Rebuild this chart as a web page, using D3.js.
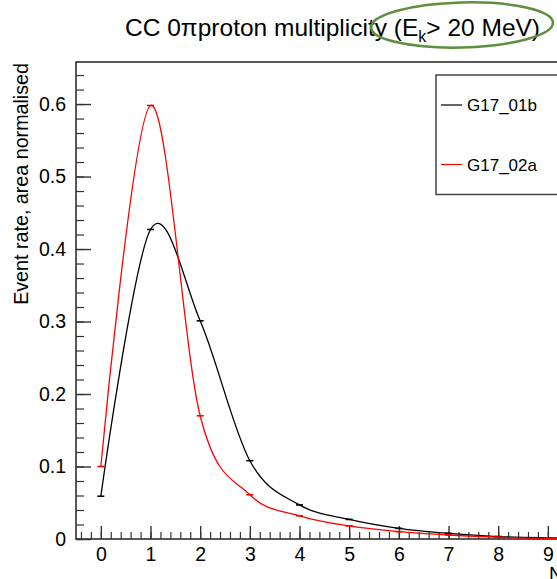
<!DOCTYPE html>
<html>
<head>
<meta charset="utf-8">
<script src="https://cdn.jsdelivr.net/npm/d3@7"></script>
<style>
body { margin: 0; background: #fff; }
text { font-family: "Liberation Sans", Arial, Helvetica, sans-serif; fill: #000; }
</style>
</head>
<body>
<div id="chart"></div>
<script>
// proton multiplicity bins and the two tunes
var nProtons = [0, 1, 2, 3, 4, 5, 6, 7, 8, 9, 10];
var g17_01b = [0.059, 0.427, 0.301, 0.108, 0.047, 0.027, 0.0147, 0.0078, 0.0034, 0.0016, 0.0008];
var g17_02a = [0.100, 0.598, 0.170, 0.061, 0.032, 0.018, 0.0101, 0.0055, 0.0024, 0.0011, 0.0005];
var seriesNames = ["G17_01b", "G17_02a"];
var seriesColors = ["#000000", "#ff0000"];
var yTicks = [0, 0.1, 0.2, 0.3, 0.4, 0.5, 0.6];
var xTicks = [0, 1, 2, 3, 4, 5, 6, 7, 8, 9, 10];

var W = 557, H = 579;
var plotLeft = 76, plotTop = 62, plotBottom = 539;

var x = d3.scaleLinear().domain([-0.5, 10.5]).range([plotLeft, plotLeft + 11 * 49.67]);
var y = d3.scaleLinear().domain([0, 0.658]).range([plotBottom, plotTop]);

var svg = d3.select("#chart").append("svg")
    .attr("width", W)
    .attr("height", H);

// title
var title = svg.append("text")
    .attr("x", 125)
    .attr("y", 36)
    .style("font-size", "24.5px");
title.append("tspan").text("CC 0\u03c0proton multiplicity (E");
title.append("tspan").attr("dy", 6).style("font-size", "16px").text("k");
title.append("tspan").attr("dy", -6).text("> 20 MeV)");

// hand drawn green ring around the cut
svg.append("ellipse")
    .attr("cx", 462).attr("cy", 25)
    .attr("rx", 91).attr("ry", 22.5)
    .attr("transform", "rotate(-1.5,462,25)")
    .attr("fill", "none")
    .attr("stroke", "#5e8e3e")
    .attr("stroke-width", 2.5);

// frame
svg.append("rect")
    .attr("x", plotLeft).attr("y", plotTop)
    .attr("width", x.range()[1] - plotLeft).attr("height", plotBottom - plotTop)
    .attr("fill", "none")
    .attr("stroke", "#222")
    .attr("stroke-width", 1.5);

// y axis minor ticks
svg.append("g")
    .attr("transform", "translate(" + plotLeft + ",0)")
    .call(d3.axisLeft(y).tickValues(d3.range(0, 0.65, 0.02)).tickSize(-8).tickFormat(""))
    .call(function(g) { g.select(".domain").remove(); g.selectAll("line").attr("stroke", "#333").attr("stroke-width", 1.2); });

// y axis major
svg.append("g")
    .attr("transform", "translate(" + plotLeft + ",0)")
    .call(d3.axisLeft(y).tickValues(yTicks).tickSize(-15).tickPadding(10)
        .tickFormat(function(d) { return d === 0 ? "0" : d3.format(".1f")(d); }))
    .call(function(g) {
        g.select(".domain").remove();
        g.selectAll("line").attr("stroke", "#333").attr("stroke-width", 1.4);
        g.selectAll("text").style("font-size", "19.5px").attr("font-family", null);
    });

// x axis minor ticks
svg.append("g")
    .attr("transform", "translate(0," + plotBottom + ")")
    .call(d3.axisBottom(x).tickValues(d3.range(-0.4, 10.5, 0.2)).tickSize(-7).tickFormat(""))
    .call(function(g) { g.select(".domain").remove(); g.selectAll("line").attr("stroke", "#333").attr("stroke-width", 1.2); });

// x axis major
svg.append("g")
    .attr("transform", "translate(0," + plotBottom + ")")
    .call(d3.axisBottom(x).tickValues(xTicks).tickSize(-13).tickPadding(8).tickFormat(d3.format("d")))
    .call(function(g) {
        g.select(".domain").remove();
        g.selectAll("line").attr("stroke", "#333").attr("stroke-width", 1.4);
        g.selectAll("text").style("font-size", "19.5px").attr("font-family", null);
    });

// axis titles
svg.append("text")
    .attr("transform", "translate(28," + (plotTop + 1) + ") rotate(-90)")
    .attr("text-anchor", "end")
    .style("font-size", "19.7px")
    .text("Event rate, area normalised");

svg.append("text")
    .attr("x", 549).attr("y", 581)
    .style("font-size", "19.5px")
    .text("N protons");

// curves and error caps (uniform catmull-rom, close to ROOT's "C" smoothing)
var line = d3.line()
    .x(function(d) { return x(d[0]); })
    .y(function(d) { return y(d[1]); })
    .curve(d3.curveCatmullRom.alpha(0));

[g17_01b, g17_02a].forEach(function(vals, i) {
    var pts = nProtons.map(function(n, j) { return [n, vals[j]]; });
    svg.append("path")
        .datum(pts)
        .attr("d", line)
        .attr("fill", "none")
        .attr("stroke", seriesColors[i])
        .attr("stroke-width", 1.3);
    svg.selectAll(".cap" + i)
        .data(pts.filter(function(d) { return d[0] <= 9; }))
        .enter().append("line")
        .attr("class", "cap" + i)
        .attr("x1", function(d) { return x(d[0]) - 3.5; })
        .attr("x2", function(d) { return x(d[0]) + 3.5; })
        .attr("y1", function(d) { return y(d[1]); })
        .attr("y2", function(d) { return y(d[1]); })
        .attr("stroke", seriesColors[i])
        .attr("stroke-width", 1.6);
});

// legend
var leg = svg.append("g");
leg.append("rect")
    .attr("x", 436).attr("y", 75)
    .attr("width", 140).attr("height", 119.5)
    .attr("fill", "#fff")
    .attr("stroke", "#444")
    .attr("stroke-width", 1.5);
var legY = d3.scalePoint().domain(seriesNames).range([105, 164.5]);
seriesNames.forEach(function(name, i) {
    leg.append("line")
        .attr("x1", 441).attr("x2", 462)
        .attr("y1", legY(name)).attr("y2", legY(name))
        .attr("stroke", seriesColors[i])
        .attr("stroke-width", 1.2);
    leg.append("text")
        .attr("x", 467).attr("y", legY(name))
        .attr("dy", "0.36em")
        .style("font-size", "17px")
        .text(name);
});
</script>
</body>
</html>
